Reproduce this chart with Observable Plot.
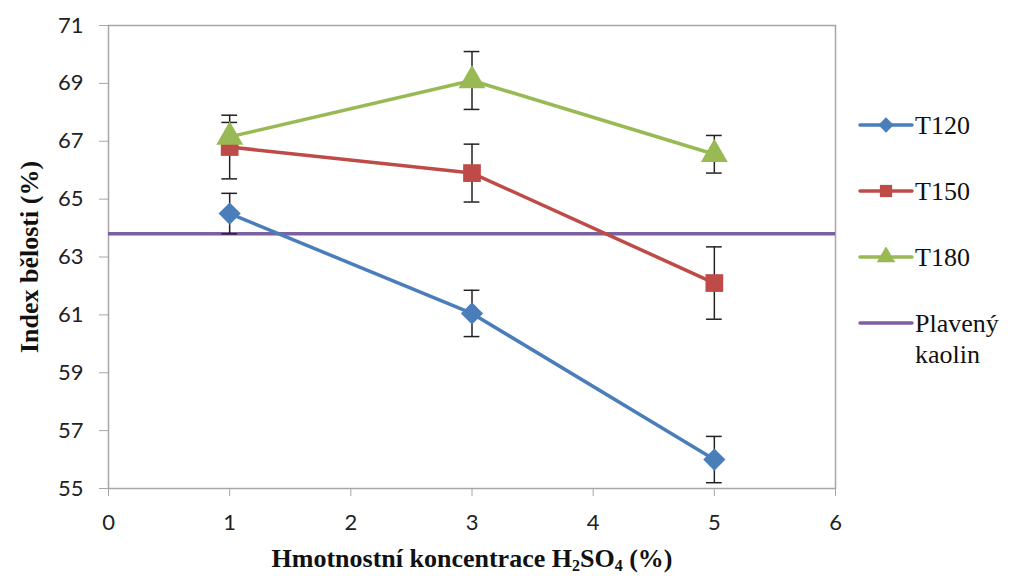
<!DOCTYPE html>
<html>
<head>
<meta charset="utf-8">
<script src="https://cdn.jsdelivr.net/npm/d3@7"></script>
<script src="https://cdn.jsdelivr.net/npm/@observablehq/plot@0.6"></script>
<style>
  html, body { margin: 0; padding: 0; background: #fff; }
  #wrap { position: relative; width: 1012px; height: 576px; }
  #legend { position: absolute; left: 858px; top: 110px; font-family: "Liberation Serif", "Times New Roman", serif; font-size: 26px; color: #111; }
  .item { display: flex; align-items: flex-start; height: 66px; }
  .item svg { flex: none; margin-top: 5px; }
  .item span { line-height: 31px; margin-left: 1px; }
</style>
</head>
<body>
<div id="wrap">
  <div id="chart"></div>
  <div id="legend"></div>
</div>
<script>
// H2SO4 concentration (%)
const conc = [1, 3, 5];
// whiteness index (%) and standard deviations per temperature series
const t120 = [64.5, 61.05, 56.0];
const t120Err = [0.7, 0.8, 0.8];
const t150 = [66.8, 65.9, 62.1];
const t150Err = [1.1, 1.0, 1.25];
const t180 = [67.15, 69.1, 66.55];
const t180Err = [0.5, 1.0, 0.65];
// reference: washed kaolin
const plavenyKaolin = 63.8;

const seriesNames = ["T120", "T150", "T180"];
const seriesColors = ["#4a7ebb", "#be4b48", "#98b954"];
const seriesSymbols = ["diamond2", "square", "triangle"];
const kaolinColor = "#7d60a0";
const kaolinName = "Plavený kaolin";

const yTicks = [55, 57, 59, 61, 63, 65, 67, 69, 71];
const xTicks = [0, 1, 2, 3, 4, 5, 6];

const values = [t120, t150, t180];
const errors = [t120Err, t150Err, t180Err];
const rows = [];
seriesNames.forEach((name, s) => {
  conc.forEach((c, i) => {
    rows.push({series: name, x: c, y: values[s][i], lo: values[s][i] - errors[s][i], hi: values[s][i] + errors[s][i]});
  });
});

// half-width of the error-bar caps, in x units
const capHalf = 0.065;

const plot = Plot.plot({
  width: 850,
  height: 576,
  marginLeft: 108,
  marginRight: 15,
  marginTop: 25,
  marginBottom: 88,
  style: {fontFamily: "Lato, 'Open Sans', sans-serif", fontSize: "22px", color: "#222", background: "#fff"},
  x: {type: "linear", domain: [0, 6], label: null},
  y: {type: "linear", domain: [55, 71], label: null},
  color: {domain: seriesNames, range: seriesColors},
  symbol: {domain: seriesNames, range: seriesSymbols},
  marks: [
    Plot.frame({stroke: "#a6a6a6", strokeWidth: 1.5}),
    Plot.axisY({ticks: yTicks, tickFormat: "d", tickSize: 9, tickPadding: 16, stroke: "#a6a6a6", fontSize: 22, fill: "#222"}),
    Plot.axisX({ticks: xTicks, tickFormat: "d", tickSize: 8, tickPadding: 18, stroke: "#a6a6a6", fontSize: 22, fill: "#222"}),
    Plot.ruleY([plavenyKaolin], {stroke: kaolinColor, strokeWidth: 3.5}),
    Plot.ruleX(rows, {x: "x", y1: "lo", y2: "hi", stroke: "#222", strokeWidth: 1.5}),
    Plot.ruleY(rows, {y: "lo", x1: d => d.x - capHalf, x2: d => d.x + capHalf, stroke: "#222", strokeWidth: 1.5}),
    Plot.ruleY(rows, {y: "hi", x1: d => d.x - capHalf, x2: d => d.x + capHalf, stroke: "#222", strokeWidth: 1.5}),
    Plot.line(rows, {x: "x", y: "y", z: "series", stroke: "series", strokeWidth: 3.5}),
    Plot.dot(rows, {x: "x", y: "y", fill: "series", symbol: "series", r: 10, stroke: null})
  ]
});

// axis titles (Times-like bold, with subscripts in H2SO4)
const svg = d3.select(plot);
svg.append("text")
  .attr("transform", "translate(38,257) rotate(-90)")
  .attr("text-anchor", "middle")
  .attr("font-family", "'Liberation Serif', 'Times New Roman', serif")
  .attr("font-weight", "bold")
  .attr("font-size", 26)
  .attr("fill", "#111")
  .text("Index bělosti (%)");

const xl = svg.append("text")
  .attr("x", 472).attr("y", 567)
  .attr("text-anchor", "middle")
  .attr("font-family", "'Liberation Serif', 'Times New Roman', serif")
  .attr("font-weight", "bold")
  .attr("font-size", 26)
  .attr("fill", "#111");
xl.append("tspan").text("Hmotnostní koncentrace H");
xl.append("tspan").attr("dy", 4).attr("font-size", 16).text("2");
xl.append("tspan").attr("dy", -4).text("SO");
xl.append("tspan").attr("dy", 4).attr("font-size", 16).text("4");
xl.append("tspan").attr("dy", -4).text(" (%)");

document.getElementById("chart").appendChild(plot);

// legend at the right of the plot
const legend = d3.select("#legend");
const legendItems = seriesNames.map((n, i) => ({name: n, color: seriesColors[i], symbol: seriesSymbols[i]}))
  .concat([{name: kaolinName, color: kaolinColor, symbol: null}]);
legendItems.forEach(d => {
  const item = legend.append("div").attr("class", "item");
  const s = item.append("svg").attr("width", 56).attr("height", 20);
  s.append("line").attr("x1", 2).attr("x2", 54).attr("y1", 10).attr("y2", 10)
    .attr("stroke", d.color).attr("stroke-width", 3.5).attr("stroke-linecap", "round");
  if (d.symbol) {
    const sym = {diamond2: d3.symbolDiamond2, square: d3.symbolSquare, triangle: d3.symbolTriangle}[d.symbol];
    s.append("path").attr("transform", "translate(28,10)")
      .attr("d", d3.symbol(sym, 150)).attr("fill", d.color);
  }
  item.append("span").html(d.name.replace(" ", "<br>"));
});
</script>
</body>
</html>
